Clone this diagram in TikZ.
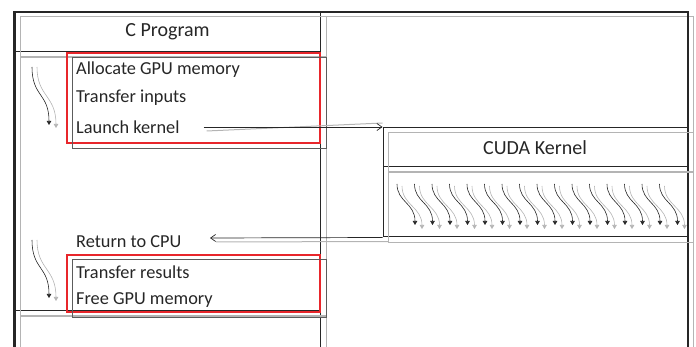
\documentclass[tikz,border=0pt]{standalone}
\usepackage{fontspec}
\setmainfont{Carlito}
\usetikzlibrary{arrows.meta,positioning,calc}
\definecolor{ink}{HTML}{262626}
\definecolor{ghostc}{HTML}{B4B4B4}
\definecolor{redl}{HTML}{E8262B}
\tikzset{
  frame/.style={draw=ink,line width=1pt,inner sep=0pt},
  hdr/.style={frame,font=\fontsize{20}{23}\selectfont,text=ink},
  stepl/.style={anchor=west,inner sep=0pt,font=\fontsize{18.3}{21}\selectfont,text=ink},
  redbox/.style={draw=redl,line width=1.4pt,inner sep=0pt},
  ghost/.style={draw=ghostc,line width=1pt},
  ghostd/.style={draw=ink!75,line width=1pt},
  ar/.style={-{Straight Barb[length=5pt,width=7pt]},draw=ink,line width=.7pt},
  thr/.style={-{Triangle[length=4pt,width=4.5pt]},draw=ink,line width=.6pt},
  thrg/.style={thr,draw=ghostc},
}

\begin{document}
\begin{tikzpicture}[x=1pt,y=-1pt]
  \useasboundingbox (0,0) rectangle (696,347);
  \clip (0,0) rectangle (696,347);
  % outer frame
  \draw[ghost] (20,17) rectangle (693,370);
  \draw[frame,line width=1.4pt] (14,12) rectangle (688,370);
  % C program column
  \node[hdr,minimum width=305pt,minimum height=40pt] (cprog) at (167.5,32) {C Program};
  \node[frame,minimum width=305pt,minimum height=259pt] (cbody) at (167.5,181.5) {};
  \node[frame,minimum width=305pt,minimum height=50pt] (cfoot) at (167.5,336) {};
  % CUDA kernel
  \node[hdr,minimum width=304pt,minimum height=39pt] (cuda) at (535,147.5) {CUDA Kernel};
  \node[frame,minimum width=304pt,minimum height=70pt] (kbody) at (535,202) {};
  \foreach \n in {cprog,cbody,cfoot,cuda,kbody}
    \draw[ghost] ([shift={(6,5)}]\n.north west) rectangle ([shift={(6,5)}]\n.south east);
  % host steps
  \node[redbox,minimum width=253pt,minimum height=90pt] (hbox1) at (193.5,98) {};
  \node[redbox,minimum width=253pt,minimum height=57pt] (hbox2) at (193.5,283.5) {};
  \foreach \n in {hbox1,hbox2}
    \draw[ghostd] ([shift={(6,5)}]\n.north west) rectangle ([shift={(6,5)}]\n.south east);
  \node[stepl] (alloc) at (76,70) {Allocate GPU memory};
  \node[stepl] (xfer) at (76,98) {Transfer inputs};
  \node[stepl] (launch) at (76,127) {Launch kernel};
  \node[stepl] (ret) at (76,242) {Return to CPU};
  \node[stepl] (res) at (76,272) {Transfer results};
  \node[stepl] (free) at (76,300) {Free GPU memory};
  % serial threads
  \foreach \y in {67,240} {
    \draw[thrg] (37,\y) .. controls (37,\y+30) and (56,\y+28) .. (56,\y+61);
    \draw[thr] (32,\y) .. controls (32,\y+30) and (49,\y+26) .. (49,\y+58);
  }
  % parallel threads
  \foreach \i in {0,...,15} {
    \draw[thrg] (402+\i*17.5,186) .. controls (402+\i*17.5,205) and (422+\i*17.5,207) .. (422+\i*17.5,229);
    \draw[thr] (397+\i*17.5,184) .. controls (397+\i*17.5,202) and (415+\i*17.5,203) .. (415+\i*17.5,225);
  }
  % launch / return
  \coordinate (retend) at (210,238);
  \draw[ghost] ([shift={(27,4)}]launch.east) -- ([yshift=4pt]launch.east -| cuda.west);
  \draw[ar] ([xshift=24pt]launch.east) -- (launch.east -| cuda.west);
  \draw[ghost] ([shift={(6,4)}]kbody.south west) -- ([shift={(6,4)}]retend);
  \draw[ar] (kbody.south west) -- (retend);
\end{tikzpicture}
\end{document}
